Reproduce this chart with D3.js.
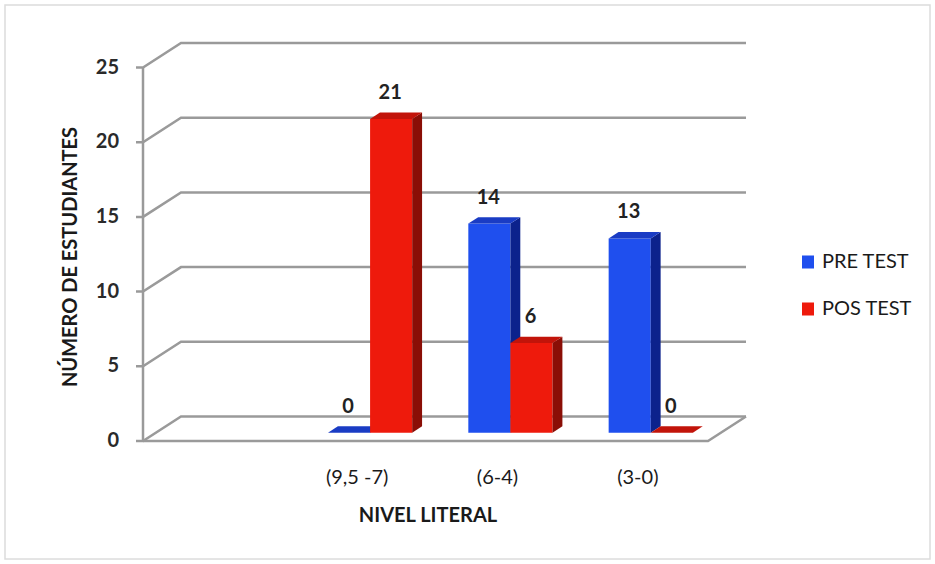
<!DOCTYPE html>
<html>
<head>
<meta charset="utf-8">
<script src="https://cdn.jsdelivr.net/npm/d3@7"></script>
<style>
  body { margin: 0; background: #ffffff; }
  svg { display: block; }
</style>
</head>
<body>
<svg id="chart" width="935" height="564"></svg>
<script>
var categories = ["(9,5 -7)", "(6-4)", "(3-0)"];
var seriesNames = ["PRE TEST", "POS TEST"];
var preTest = [0, 14, 13];
var posTest = [21, 6, 0];
var yTicks = [0, 5, 10, 15, 20, 25];

var frontColors = ["#1f4fee", "#ee1a0c"];
var sideColors = ["#0c228c", "#8a0e06"];
var topColors = ["#1a3cc4", "#c2140a"];

var width = 935;
var height = 564;

// depth of the 3d box (back wall offset)
var DX = 38;
var DY = 24.5;
var axisLeft = 143;
var floorRight = 708;

// bars sit between these depth fractions
var barFront = 0.34;
var barBack = 0.6;

var fontFam = "Lato, sans-serif";

var svg = d3.select("#chart");

var yScale = d3.scaleLinear()
.domain([0, 25])
.range([441, 67.5]);

var xScale = d3.scaleBand()
.domain(categories)
.range([287, 708])
.paddingInner(0)
.paddingOuter(0);

var seriesScale = d3.scaleBand()
.domain([0, 1])
.range([xScale.bandwidth() * 0.2, xScale.bandwidth() * 0.8]);

function project(x, v, depth){
    return [x + depth * DX, yScale(v) - depth * DY];
}

function poly(points){
    return "M" + points.map(function(p){ return p[0] + "," + p[1]; }).join("L") + "Z";
}

// outer frame
svg.append("rect")
.attr("x", 5)
.attr("y", 5)
.attr("width", width - 10)
.attr("height", height - 10)
.attr("fill", "none")
.attr("stroke", "#dcdcdc")
.attr("stroke-width", 1.5);

var grid = svg.append("g")
.attr("stroke", "#9a9a9a")
.attr("stroke-width", 2.5)
.attr("fill", "none");

// gridlines: diagonal from front axis then across back wall
yTicks.forEach(function(t){
    var f = project(axisLeft, t, 0);
    var b = project(axisLeft, t, 1);
    var e = project(floorRight, t, 1);
    grid.append("path")
    .attr("d", "M" + (f[0] - 7) + "," + f[1] + "L" + f[0] + "," + f[1] + "L" + b[0] + "," + b[1] + "L" + e[0] + "," + e[1]);
});

// floor front edge and right edge
var fl0 = project(axisLeft, 0, 0);
var fr0 = project(floorRight, 0, 0);
var fr1 = project(floorRight, 0, 1);
grid.append("path")
.attr("d", "M" + fl0[0] + "," + fl0[1] + "L" + fr0[0] + "," + fr0[1] + "L" + fr1[0] + "," + fr1[1]);

// front vertical axis
grid.append("line")
.attr("x1", axisLeft)
.attr("x2", axisLeft)
.attr("y1", yScale(25))
.attr("y2", yScale(0));

// tick labels
svg.append("g")
.selectAll("text")
.data(yTicks)
.enter()
.append("text")
.attr("x", 119)
.attr("y", function(d){ return yScale(d) + 1; })
.attr("text-anchor", "end")
.attr("dominant-baseline", "middle")
.attr("font-family", fontFam)
.attr("font-size", 20)
.attr("font-weight", "bold")
.attr("fill", "#2a2a2a")
.text(function(d){ return d; });

// bars
var barData = [];
categories.forEach(function(c, i){
    barData.push({cat: c, s: 0, value: preTest[i]});
    barData.push({cat: c, s: 1, value: posTest[i]});
});

var bars = svg.append("g");
barData.forEach(function(d){
    var x0 = xScale(d.cat) + seriesScale(d.s);
    var x1 = x0 + seriesScale.bandwidth();
    var g = bars.append("g");

    // front face
    g.append("path")
    .attr("d", poly([project(x0, 0, barFront), project(x1, 0, barFront), project(x1, d.value, barFront), project(x0, d.value, barFront)]))
    .attr("fill", frontColors[d.s]);

    // right side face
    g.append("path")
    .attr("d", poly([project(x1, 0, barFront), project(x1, 0, barBack), project(x1, d.value, barBack), project(x1, d.value, barFront)]))
    .attr("fill", sideColors[d.s]);

    // top face
    g.append("path")
    .attr("d", poly([project(x0, d.value, barFront), project(x1, d.value, barFront), project(x1, d.value, barBack), project(x0, d.value, barBack)]))
    .attr("fill", topColors[d.s]);

    var lp = project((x0 + x1) / 2, d.value, barFront);
    g.append("text")
    .attr("x", lp[0] - 1)
    .attr("y", lp[1] - 20)
    .attr("text-anchor", "middle")
    .attr("font-family", fontFam)
    .attr("font-size", 20)
    .attr("font-weight", "bold")
    .attr("fill", "#222")
    .text(d.value);
});

// category labels
svg.append("g")
.selectAll("text")
.data(categories)
.enter()
.append("text")
.attr("x", function(d){ return xScale(d) + xScale.bandwidth() / 2; })
.attr("y", 484)
.attr("text-anchor", "middle")
.attr("font-family", fontFam)
.attr("font-size", 20)
.attr("fill", "#1a1a1a")
.text(function(d){ return d; });

// axis titles
svg.append("text")
.attr("x", 428)
.attr("y", 522)
.attr("text-anchor", "middle")
.attr("font-family", fontFam)
.attr("font-size", 20)
.attr("font-weight", "bold")
.attr("fill", "#1a1a1a")
.text("NIVEL LITERAL");

svg.append("text")
.attr("transform", "translate(77,257) rotate(-90)")
.attr("text-anchor", "middle")
.attr("font-family", fontFam)
.attr("font-size", 20)
.attr("font-weight", "bold")
.attr("fill", "#1a1a1a")
.text("NÚMERO DE ESTUDIANTES");

// legend
var legend = svg.append("g")
.selectAll("g")
.data(seriesNames)
.enter()
.append("g")
.attr("transform", function(d, i){ return "translate(802," + (262 + i * 47) + ")"; });

legend.append("rect")
.attr("x", 0)
.attr("y", -6.5)
.attr("width", 12)
.attr("height", 13)
.attr("fill", function(d, i){ return frontColors[i]; });

legend.append("text")
.attr("x", 20)
.attr("y", 1)
.attr("dominant-baseline", "middle")
.attr("font-family", fontFam)
.attr("font-size", 20)
.attr("fill", "#1a1a1a")
.text(function(d){ return d; });
</script>
</body>
</html>
